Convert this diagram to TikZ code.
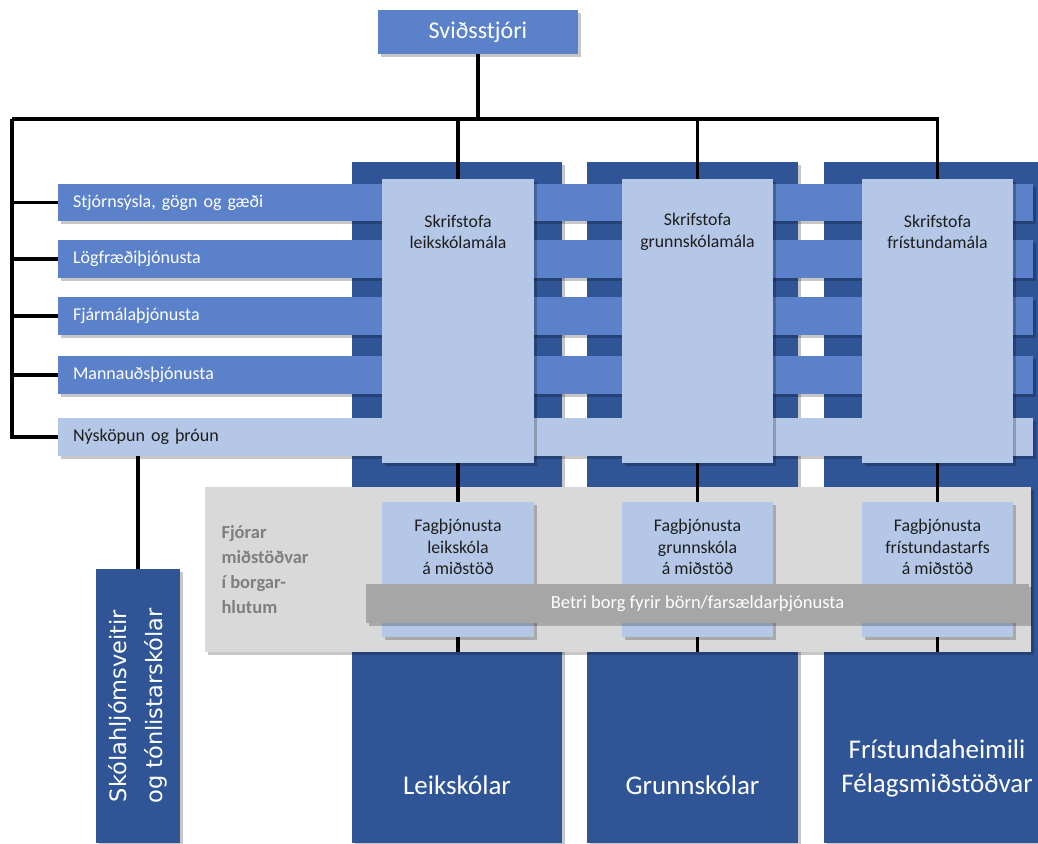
\documentclass[tikz,border=0pt]{standalone}
\usepackage{fontspec}
\setmainfont{Carlito}
\newfontfamily\vfont{DejaVu Sans}
\usetikzlibrary{shadows}
\definecolor{medblue}{HTML}{5A81C9}
\definecolor{darkblue}{HTML}{2F5597}
\definecolor{lightblue}{HTML}{B4C7E7}
\definecolor{bandgrey}{HTML}{D9D9D9}
\definecolor{bargrey}{HTML}{A6A6A6}
\definecolor{textgrey}{HTML}{7F7F7F}
\definecolor{darktext}{HTML}{1E1E1E}
\begin{document}
\begin{tikzpicture}[x=1pt,y=-1pt,
  shad/.style={drop shadow={shadow xshift=3pt,shadow yshift=-3pt,opacity=0.22,fill=black}},
  rect/.style={anchor=north west,inner sep=0pt,outer sep=0pt,shad},
  colbox/.style={rect,fill=darkblue,minimum height=681},
  hbar/.style={rect,fill=medblue,text=white,minimum height=38,text width=945pt,inner xsep=15pt,align=left,font=\fontsize{18}{21}\selectfont},
  skbox/.style={rect,fill=lightblue,minimum width=152,minimum height=284},
  fagbox/.style={rect,fill=lightblue,minimum width=152,minimum height=135},
  boxtext/.style={align=center,text=darktext,font=\fontsize{17.8}{21.5}\selectfont},
  bigtext/.style={align=center,text=white,font=\fontsize{27}{34}\selectfont},
  conn/.style={draw=black,line width=3.2pt}]
\useasboundingbox (0,0) rectangle (1038,843);

% columns
\node[colbox,minimum width=210] (colA) at (352,162) {};
\node[colbox,minimum width=211] (colB) at (587,162) {};
\node[colbox,minimum width=214] (colC) at (824,162) {};

% horizontal bars
\node[hbar,minimum height=37] (bar1) at (58,184) {Stjórnsýsla, gögn og gæði};
\node[hbar] (bar2) at (58,240) {Lögfræðiþjónusta};
\node[hbar] (bar3) at (58,297) {Fjármálaþjónusta};
\node[hbar] (bar4) at (58,356) {Mannauðsþjónusta};
\node[hbar,fill=lightblue,text=darktext] (nys) at (58,418) {Nýsköpun og þróun};

% Skrifstofa boxes
\node[skbox] (sk1) at (382,179) {};
\node[skbox,minimum width=151] (sk2) at (622,179) {};
\node[skbox,minimum width=151] (sk3) at (862,179) {};
\node[boxtext] (sk1t) at (sk1.north |- 0,232) {Skrifstofa\\leikskólamála};
\node[boxtext] (sk2t) at (sk2.north |- 0,232) {Skrifstofa\\grunnskólamála};
\node[boxtext] (sk3t) at (sk3.north |- 0,232) {Skrifstofa\\frístundamála};

% grey band
\node[rect,fill=bandgrey,minimum width=826,minimum height=165,drop shadow={opacity=0}] (band) at (205,487) {};
\node[anchor=west,align=left,text=textgrey,font=\bfseries\fontsize{18.5}{25}\selectfont] (fjorar) at (218,570) {Fjórar\\miðstöðvar\\í borgar-\\hlutum};

% Fagþjónusta boxes
\node[fagbox] (fag1) at (382,502) {};
\node[fagbox,minimum width=151] (fag2) at (622,502) {};
\node[fagbox,minimum width=151] (fag3) at (862,502) {};
\node[boxtext] (fag1t) at (fag1.north |- 0,547) {Fagþjónusta\\leikskóla\\á miðstöð};
\node[boxtext] (fag2t) at (fag2.north |- 0,547) {Fagþjónusta\\grunnskóla\\á miðstöð};
\node[boxtext] (fag3t) at (fag3.north |- 0,547) {Fagþjónusta\\frístundastarfs\\á miðstöð};

% Betri borg bar
\node[rect,fill=bargrey,minimum width=663,minimum height=39] (betri) at (366,584) {};
\node[text=white,font=\fontsize{18.5}{22}\selectfont] (betrit) at (betri.center) {Betri borg fyrir börn/farsældarþjónusta};

% bottom column texts
\node[bigtext] (leikt) at (colA.center |- 0,785) {Leikskólar};
\node[bigtext] (grunnt) at (colB.center |- 0,785) {Grunnskólar};
\node[bigtext] (frit) at (937,768) {Frístundaheimili\\Félagsmiðstöðvar};

% Skólahljómsveitir
\node[rect,fill=darkblue,minimum width=84,minimum height=274] (skola) at (96,569) {};
\node[rotate=90,align=center,text=white,font=\vfont\fontsize{22.5}{36}\selectfont] (skolat) at (skola.center) {Skólahljómsveitir\\og tónlistarskólar};

% top box
\node[rect,fill=medblue,minimum width=200,minimum height=44] (svid) at (378,10) {};
\node[text=white,font=\fontsize{24}{28}\selectfont] (svidt) at (svid.center) {Sviðsstjóri};

% connectors
\coordinate (busL) at (12,119);
\draw[conn] (svid.south) -- (svid.south |- busL);
\draw[conn] (busL) -- (sk3.north |- busL) -- (sk3.north);
\draw[conn] (sk1.north |- busL) -- (sk1.north);
\draw[conn] (sk2.north |- busL) -- (sk2.north);
\draw[conn] (busL) -- (busL |- nys.west) -- (nys.west);
\foreach \b in {bar1,bar2,bar3,bar4}{\draw[conn] (busL |- \b.west) -- (\b.west);}
\draw[conn] (sk1.south) -- (fag1.north);
\draw[conn] (sk2.south) -- (fag2.north);
\draw[conn] (sk3.south) -- (fag3.north);
\draw[conn] (fag1.south) -- (fag1.south |- band.south);
\draw[conn] (fag2.south) -- (fag2.south |- band.south);
\draw[conn] (fag3.south) -- (fag3.south |- band.south);
\draw[conn] (nys.south -| skola.north) -- (skola.north);
\end{tikzpicture}
\end{document}
